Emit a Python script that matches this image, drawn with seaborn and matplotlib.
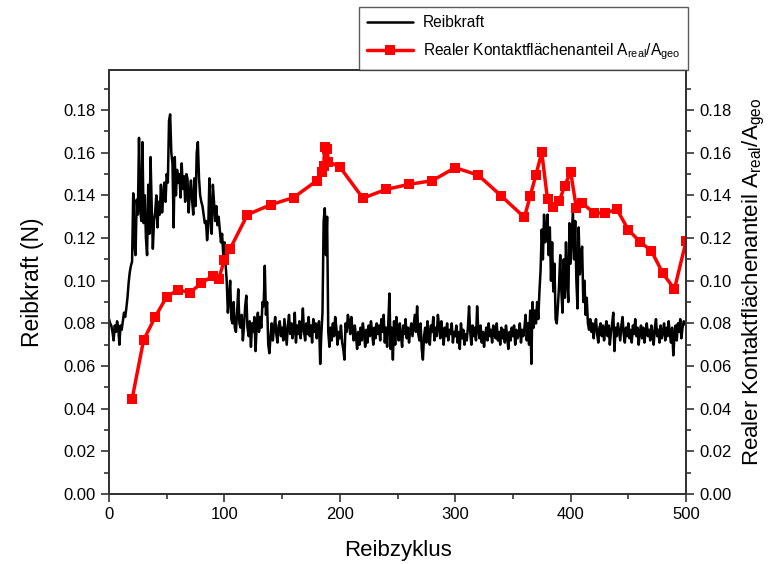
import numpy as np
import pandas as pd
import matplotlib
matplotlib.use("Agg")
import matplotlib.pyplot as plt
from matplotlib.ticker import MultipleLocator
import seaborn as sns

# ---- data ----
reib_cycles = list(range(0, 501))
reibkraft = [
    0.082, 0.080, 0.079, 0.076, 0.072, 0.079, 0.076, 0.081, 0.078, 0.070,
    0.079, 0.077, 0.081, 0.085, 0.083, 0.087, 0.092, 0.099, 0.104, 0.107,
    0.109, 0.141, 0.117, 0.112, 0.138, 0.131, 0.167, 0.134, 0.128, 0.165,
    0.127, 0.140, 0.120, 0.112, 0.145, 0.122, 0.158, 0.135, 0.115, 0.128,
    0.132, 0.140, 0.125, 0.137, 0.131, 0.145, 0.132, 0.140, 0.146, 0.137,
    0.150, 0.146, 0.175, 0.178, 0.160, 0.155, 0.125, 0.158, 0.140, 0.152,
    0.146, 0.150, 0.139, 0.155, 0.143, 0.149, 0.137, 0.150, 0.148, 0.132,
    0.141, 0.147, 0.138, 0.131, 0.148, 0.135, 0.160, 0.165, 0.148, 0.140,
    0.137, 0.135, 0.131, 0.127, 0.128, 0.119, 0.125, 0.148, 0.130, 0.122,
    0.145, 0.137, 0.128, 0.135, 0.126, 0.130, 0.124, 0.118, 0.122, 0.112,
    0.118, 0.108, 0.100, 0.085, 0.092, 0.100, 0.082, 0.080, 0.090, 0.078,
    0.076, 0.085, 0.096, 0.080, 0.078, 0.084, 0.072, 0.079, 0.088, 0.093,
    0.078, 0.074, 0.081, 0.069, 0.080, 0.076, 0.083, 0.067, 0.079, 0.085,
    0.076, 0.083, 0.078, 0.090, 0.088, 0.107, 0.084, 0.090, 0.070, 0.066,
    0.074, 0.080, 0.072, 0.078, 0.083, 0.075, 0.071, 0.079, 0.081, 0.074,
    0.078, 0.072, 0.082, 0.076, 0.070, 0.079, 0.084, 0.075, 0.080, 0.073,
    0.077, 0.085, 0.071, 0.079, 0.075, 0.081, 0.073, 0.078, 0.087, 0.076,
    0.072, 0.080, 0.075, 0.083, 0.074, 0.079, 0.071, 0.082, 0.076, 0.080,
    0.073, 0.078, 0.081, 0.061, 0.075, 0.085, 0.128, 0.134, 0.112, 0.130,
    0.076, 0.069, 0.078, 0.072, 0.080, 0.074, 0.083, 0.078, 0.070, 0.076,
    0.073, 0.079, 0.071, 0.068, 0.063, 0.080, 0.076, 0.084, 0.081, 0.075,
    0.083, 0.077, 0.072, 0.079, 0.074, 0.068, 0.076, 0.070, 0.078, 0.072,
    0.080, 0.075, 0.069, 0.077, 0.071, 0.079, 0.074, 0.081, 0.076, 0.070,
    0.078, 0.073, 0.080, 0.075, 0.079, 0.072, 0.082, 0.076, 0.084, 0.071,
    0.078, 0.069, 0.080, 0.094, 0.068, 0.078, 0.063, 0.081, 0.070, 0.083,
    0.076, 0.072, 0.080, 0.074, 0.069, 0.079, 0.075, 0.082, 0.073, 0.078,
    0.071, 0.077, 0.080, 0.074, 0.079, 0.084, 0.076, 0.088, 0.075, 0.072,
    0.080, 0.068, 0.063, 0.074, 0.078, 0.071, 0.081, 0.075, 0.070, 0.079,
    0.076, 0.083, 0.072, 0.078, 0.074, 0.084, 0.079, 0.073, 0.081, 0.076,
    0.070, 0.078, 0.074, 0.080, 0.072, 0.077, 0.075, 0.080, 0.071, 0.076,
    0.074, 0.079, 0.071, 0.076, 0.068, 0.080, 0.073, 0.077, 0.070, 0.075,
    0.072, 0.078, 0.088, 0.076, 0.070, 0.079, 0.074, 0.078, 0.072, 0.088,
    0.077, 0.073, 0.079, 0.071, 0.076, 0.069, 0.075, 0.078, 0.072, 0.080,
    0.074, 0.077, 0.071, 0.079, 0.075, 0.073, 0.080, 0.072, 0.076, 0.070,
    0.078, 0.073, 0.077, 0.071, 0.079, 0.074, 0.068, 0.076, 0.072, 0.078,
    0.074, 0.079, 0.070, 0.077, 0.073, 0.075, 0.080, 0.071, 0.077, 0.074,
    0.078, 0.084, 0.072, 0.080, 0.070, 0.086, 0.061, 0.090, 0.078, 0.086,
    0.080, 0.090, 0.082, 0.095, 0.105, 0.124, 0.110, 0.131, 0.118, 0.122,
    0.131, 0.112, 0.125, 0.100, 0.118, 0.095, 0.108, 0.082, 0.080, 0.088,
    0.098, 0.112, 0.095, 0.085, 0.110, 0.092, 0.118, 0.100, 0.090, 0.127,
    0.108, 0.120, 0.133, 0.110, 0.128, 0.100, 0.087, 0.125, 0.103, 0.112,
    0.116, 0.090, 0.100, 0.084, 0.092, 0.080, 0.077, 0.082, 0.076, 0.080,
    0.073, 0.079, 0.082, 0.075, 0.071, 0.078, 0.080, 0.074, 0.079, 0.072,
    0.077, 0.081, 0.074, 0.079, 0.070, 0.076, 0.080, 0.085, 0.067, 0.078,
    0.074, 0.080, 0.076, 0.072, 0.079, 0.083, 0.075, 0.071, 0.078, 0.074,
    0.080, 0.073, 0.077, 0.071, 0.079, 0.075, 0.082, 0.074, 0.078, 0.070,
    0.076, 0.079, 0.073, 0.078, 0.071, 0.076, 0.080, 0.074, 0.077, 0.072,
    0.079, 0.075, 0.070, 0.078, 0.082, 0.074, 0.077, 0.071, 0.079, 0.073,
    0.076, 0.080, 0.072, 0.078, 0.074, 0.081, 0.075, 0.071, 0.078, 0.065,
    0.074, 0.079, 0.072, 0.080, 0.076, 0.082, 0.073, 0.078, 0.081, 0.080,
    0.079,
]

area_cycles = [20, 30, 40, 50, 60, 70, 80, 90, 95, 100, 105, 120, 140, 160,
               180, 185, 186, 187, 189, 190, 200, 220, 240, 260, 280, 300,
               320, 340, 360, 365, 370, 375, 380, 385, 390, 395, 400, 405,
               410, 420, 430, 440, 450, 460, 470, 480, 490, 500]
area_ratio = [0.0445, 0.0722, 0.0830, 0.0925, 0.0958, 0.0944, 0.0988, 0.1023,
              0.1008, 0.1097, 0.1150, 0.1310, 0.1356, 0.1390, 0.1469, 0.1508,
              0.1537, 0.1628, 0.1616, 0.1558, 0.1534, 0.1387, 0.1428, 0.1452,
              0.1469, 0.1530, 0.1495, 0.1397, 0.1297, 0.1398, 0.1497, 0.1602,
              0.1381, 0.1344, 0.1372, 0.1445, 0.1512, 0.1340, 0.1364, 0.1319,
              0.1316, 0.1336, 0.1239, 0.1183, 0.1140, 0.1034, 0.0961, 0.1184]

x_label = "Reibzyklus"
y_label = "Reibkraft (N)"
y2_label = "Realer Kontaktflächenanteil A$_{real}$/A$_{geo}$"
label_force = "Reibkraft"
label_area = "Realer Kontaktflächenanteil A$_{real}$/A$_{geo}$"

# ---- style ----
sns.set_theme(style="white")
plt.rcParams["font.family"] = ["Liberation Sans", "DejaVu Sans"]
plt.rcParams["mathtext.default"] = "regular"
plt.rcParams["text.color"] = "black"
plt.rcParams["axes.labelcolor"] = "black"
plt.rcParams["xtick.color"] = "black"
plt.rcParams["ytick.color"] = "black"

df_force = pd.DataFrame({"cycle": reib_cycles, "force": reibkraft})
df_area = pd.DataFrame({"cycle": area_cycles, "ratio": area_ratio})

fig = plt.figure(figsize=(7.68, 5.64), dpi=100)
ax = fig.add_axes([109 / 768, 1 - 494 / 564, (686 - 109) / 768, (494 - 70) / 564])
ax2 = ax.twinx()

sns.lineplot(data=df_force, x="cycle", y="force", ax=ax, color="black",
             linewidth=1.8, label=label_force, legend=False)
sns.lineplot(data=df_area, x="cycle", y="ratio", ax=ax2, color="#ff0000",
             linewidth=2.5, marker="s", markersize=7, markeredgewidth=0,
             label=label_area, legend=False)

ylim = (0, 0.1988)
for a in (ax, ax2):
    a.set_ylim(*ylim)
    a.yaxis.set_major_locator(MultipleLocator(0.02))
    a.yaxis.set_minor_locator(MultipleLocator(0.01))
    a.yaxis.set_major_formatter(plt.FormatStrFormatter("%.2f"))
    a.tick_params(axis="both", which="major", direction="out", length=6,
                  width=1.2, labelsize=12, color="#333333")
    a.tick_params(axis="both", which="minor", direction="out", length=3.5,
                  width=1.2, color="#333333")
    for s in a.spines.values():
        s.set_color("#333333")
        s.set_linewidth(1.3)
ax.set_xlim(0, 500)
ax.xaxis.set_major_locator(MultipleLocator(100))
ax.xaxis.set_minor_locator(MultipleLocator(50))
ax.tick_params(axis="x", which="both", bottom=True)
ax.tick_params(axis="y", which="both", left=True)
ax2.tick_params(axis="y", which="both", right=True)

ax.set_xlabel(x_label, fontsize=16, labelpad=13)
ax.set_ylabel(y_label, fontsize=16.5, labelpad=14)
ax2.set_ylabel(y2_label, fontsize=16, labelpad=7)
ax.grid(False)
ax2.grid(False)

h1, l1 = ax.get_legend_handles_labels()
h2, l2 = ax2.get_legend_handles_labels()
leg = fig.legend(h1 + h2, l1 + l2, loc="lower right",
                 bbox_to_anchor=(688 / 768, 1 - 70 / 564),
                 borderaxespad=0,
                 frameon=True, fancybox=False, edgecolor="#333333",
                 fontsize=11.2, handlelength=3.0, borderpad=0.5,
                 labelspacing=0.75, handletextpad=0.6)
leg.get_frame().set_linewidth(1.0)

fig.savefig("out.png", dpi=100)
